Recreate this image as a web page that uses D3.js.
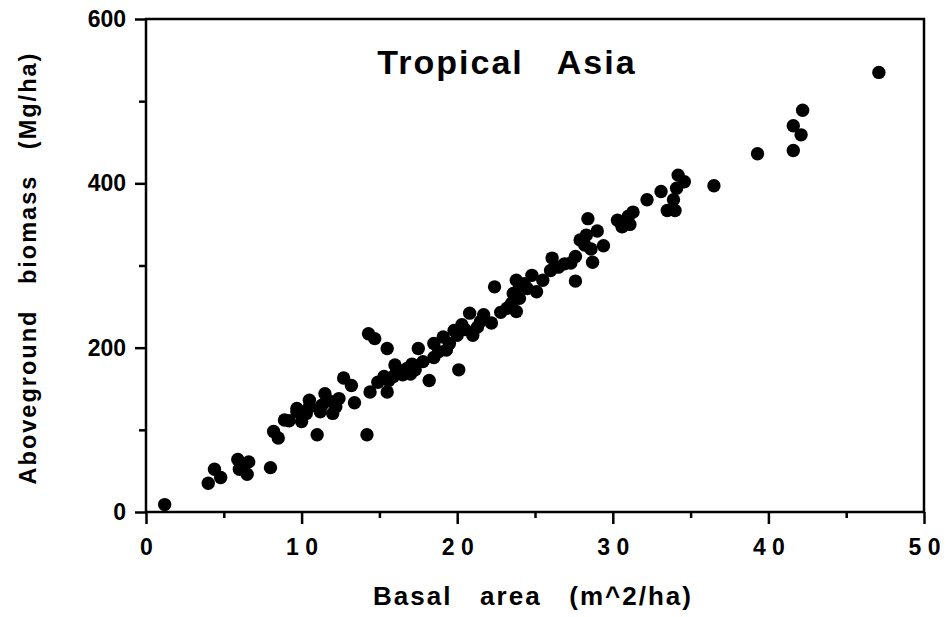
<!DOCTYPE html>
<html>
<head>
<meta charset="utf-8">
<script src="https://cdn.jsdelivr.net/npm/d3@7"></script>
<style>
  body { margin: 0; background: #fff; }
  text { font-family: "Liberation Sans", Arial, Helvetica, sans-serif; font-weight: bold; fill: #000; }
</style>
</head>
<body>
<svg id="chart" width="947" height="617"></svg>
<script>
// basal area (m^2/ha) and aboveground biomass (Mg/ha)
const basalArea = [1.2, 4.0, 4.4, 4.8, 5.9, 6.6, 6.0, 6.5, 6.2, 8.0, 8.2, 8.5, 8.9, 9.2, 9.7, 9.7, 10.0, 10.3, 10.5, 10.5,
  11.0, 11.2, 11.3, 11.5, 11.8, 12.0, 12.2, 12.4, 12.7, 13.2, 13.4, 14.2, 14.3, 14.7, 14.4, 14.9, 15.5, 15.5, 15.3, 15.9,
  15.6, 16.0, 16.3, 16.8, 16.5, 17.0, 17.3, 17.5, 17.8, 18.2, 18.5, 18.5, 18.8, 19.1, 19.3, 19.8, 20.0, 20.1, 20.3, 20.8,
  21.0, 21.3, 21.7, 22.2, 22.4, 22.8, 23.2, 23.5, 23.6, 23.8, 23.8, 24.0, 24.3, 24.8, 25.1, 25.5, 26.0, 26.1, 26.5, 26.9,
  27.3, 27.6, 27.6, 27.9, 28.3, 28.4, 28.7, 29.0, 29.4, 28.6, 30.3, 30.6, 31.1, 31.3, 31.0, 32.2, 33.1, 33.5, 34.0, 33.9,
  34.1, 34.2, 34.6, 36.5, 39.3, 41.6, 41.6, 42.1, 42.2, 47.1, 16.1, 17.1, 19.5, 20.5, 21.5, 24.0, 24.5, 28.2, 30.5];
const biomass = [9, 35, 52, 42, 64, 61, 52, 46, 57, 54, 98, 90, 112, 111, 122, 126, 110, 120, 136, 128,
  94, 122, 130, 144, 135, 120, 128, 138, 163, 154, 133, 94, 217, 211, 146, 158, 199, 146, 165, 165,
  160, 179, 172, 175, 167, 168, 173, 199, 183, 160, 205, 188, 195, 213, 197, 221, 215, 173, 228, 242,
  215, 225, 240, 230, 274, 243, 248, 254, 266, 244, 282, 275, 278, 288, 268, 282, 294, 309, 298, 302,
  303, 281, 311, 331, 337, 357, 304, 342, 324, 320, 355, 347, 350, 365, 360, 380, 390, 367, 367, 380,
  394, 410, 402, 397, 436, 440, 470, 459, 489, 535, 170, 180, 205, 222, 232, 260, 272, 325, 352];

const xMajor = [0, 10, 20, 30, 40, 50];
const xMinor = [5, 15, 25, 35, 45];
const yMajor = [0, 200, 400, 600];
const yMinor = [100, 300, 500];

const svg = d3.select("#chart");

let x = d3.scaleLinear().domain([0, 50]).range([146, 924]);
let y = d3.scaleLinear().domain([0, 600]).range([512, 19]);

// frame
svg.append("rect")
    .attr("x", x(0))
    .attr("y", y(600))
    .attr("width", x(50) - x(0))
    .attr("height", y(0) - y(600))
    .attr("fill", "none")
    .attr("stroke", "#000")
    .attr("stroke-width", 2.5);

// axes
function styleAxis(g) {
    g.select(".domain").remove();
    g.selectAll(".tick line").attr("stroke", "#000").attr("stroke-width", 2.5);
    g.selectAll(".tick text").attr("font-size", 23);
}

svg.append("g")
    .attr("transform", "translate(0," + y(0) + ")")
    .call(d3.axisBottom(x).tickValues(xMajor).tickSize(12).tickPadding(15)
        .tickFormat(d => String(d).split("").join(" ")))
    .call(styleAxis);
svg.append("g")
    .attr("transform", "translate(0," + y(0) + ")")
    .call(d3.axisBottom(x).tickValues(xMinor).tickSize(6).tickFormat(""))
    .call(styleAxis);
svg.append("g")
    .attr("transform", "translate(" + x(0) + ",0)")
    .call(d3.axisLeft(y).tickValues(yMajor).tickSize(11).tickPadding(9))
    .call(styleAxis);
svg.append("g")
    .attr("transform", "translate(" + x(0) + ",0)")
    .call(d3.axisLeft(y).tickValues(yMinor).tickSize(7).tickFormat(""))
    .call(styleAxis);

// points
svg.append("g")
    .selectAll("circle")
    .data(basalArea.map((d, i) => [d, biomass[i]]))
    .enter().append("circle")
    .attr("cx", d => x(d[0]))
    .attr("cy", d => y(d[1]))
    .attr("r", 6.7)
    .attr("fill", "#000");

// titles
svg.append("text")
    .attr("x", 507)
    .attr("y", 74)
    .attr("text-anchor", "middle")
    .attr("font-size", 34)
    .attr("letter-spacing", 2)
    .style("white-space", "pre")
    .text("Tropical   Asia");

svg.append("text")
    .attr("x", 533)
    .attr("y", 605)
    .attr("text-anchor", "middle")
    .attr("font-size", 26)
    .attr("letter-spacing", 2)
    .style("white-space", "pre")
    .text("Basal   area   (m^2/ha)");

svg.append("text")
    .attr("transform", "translate(36,268) rotate(-90)")
    .attr("text-anchor", "middle")
    .attr("font-size", 23.5)
    .attr("letter-spacing", 2)
    .style("white-space", "pre")
    .text("Aboveground   biomass   (Mg/ha)");
</script>
</body>
</html>
